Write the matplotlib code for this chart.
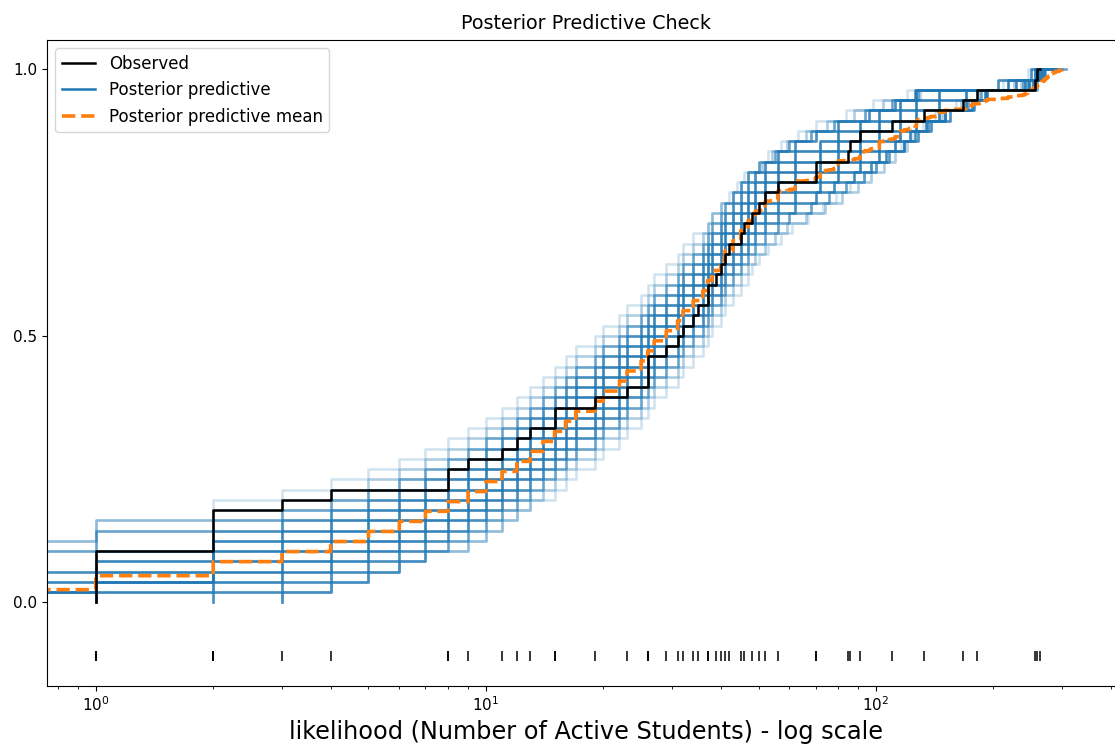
import numpy as np
import matplotlib
matplotlib.use("Agg")
import matplotlib.pyplot as plt
from matplotlib.lines import Line2D

# observed number of active students (53 observations)
obs_values = [1, 1, 1, 1, 1, 2, 2, 2, 2, 3, 4, 8, 8, 9, 11, 12, 13, 15, 15, 19,
              23, 26, 26, 26, 29, 31, 32, 34, 35, 37, 37, 39, 40, 41, 42, 45, 46,
              48, 50, 52, 56, 70, 70, 85, 86, 91, 110, 133, 167, 182, 256, 259, 263]

# posterior predictive draws (sorted), estimated from the band of blue steps
pp_draws = [
    [3, 4, 5, 6, 7, 9, 10, 11, 12, 13, 15, 16, 17, 19, 20, 22, 23, 25, 26, 27,
     29, 31, 32, 34, 36, 37, 38, 40, 41, 43, 45, 47, 48, 50, 53, 57, 61, 67, 73, 79,
     86, 93, 100, 108, 116, 124, 132, 142, 160, 182, 250, 268, 290],
    [3, 4, 5, 6, 7, 9, 10, 11, 12, 13, 14, 15, 16, 17, 19, 20, 22, 23, 25, 26,
     27, 29, 31, 32, 34, 36, 37, 38, 40, 41, 43, 45, 47, 49, 52, 55, 59, 66, 74, 82,
     90, 97, 105, 112, 120, 128, 136, 148, 165, 184, 236, 262, 300],
    [3, 4, 5, 6, 7, 8, 9, 10, 11, 12, 13, 14, 15, 16, 17, 19, 20, 22, 23, 25,
     26, 27, 29, 31, 32, 34, 36, 37, 38, 40, 41, 43, 45, 47, 49, 52, 56, 60, 68, 76,
     84, 93, 100, 108, 118, 128, 136, 150, 172, 186, 258, 272, 307],
    [2, 3, 4, 5, 6, 7, 8, 9, 10, 11, 12, 13, 14, 15, 16, 17, 19, 20, 22, 23,
     25, 26, 27, 29, 31, 32, 34, 36, 37, 38, 40, 41, 43, 45, 47, 49, 52, 56, 62, 70,
     78, 88, 97, 106, 118, 126, 138, 155, 178, 191, 245, 266, 284],
    [1, 2, 3, 4, 5, 6, 7, 8, 9, 10, 11, 12, 13, 14, 15, 16, 17, 19, 20, 22,
     23, 25, 26, 27, 29, 31, 32, 34, 36, 37, 38, 40, 41, 43, 45, 47, 49, 52, 56, 62,
     72, 80, 91, 102, 112, 122, 134, 150, 176, 193, 228, 259, 279],
    [1, 1, 2, 3, 4, 5, 6, 7, 8, 9, 10, 11, 12, 13, 14, 15, 16, 17, 19, 20,
     22, 23, 25, 26, 27, 29, 31, 32, 34, 36, 37, 38, 40, 41, 43, 45, 47, 49, 52, 56,
     62, 72, 80, 91, 102, 115, 127, 145, 170, 190, 252, 270, 295],
    [0, 1, 2, 2, 3, 4, 5, 6, 7, 8, 9, 10, 11, 12, 13, 14, 15, 16, 17, 19,
     20, 22, 23, 25, 26, 27, 29, 31, 32, 34, 36, 37, 38, 40, 41, 43, 45, 47, 49, 52,
     56, 62, 72, 80, 91, 102, 115, 127, 145, 170, 241, 262, 281],
    [0, 1, 1, 2, 2, 3, 4, 5, 6, 7, 8, 9, 10, 11, 12, 13, 14, 15, 16, 17,
     19, 20, 22, 23, 25, 26, 27, 29, 31, 32, 34, 36, 37, 38, 40, 41, 43, 45, 47, 49,
     52, 56, 62, 72, 80, 91, 102, 115, 127, 145, 218, 255, 276],
    [0, 0, 1, 1, 2, 2, 3, 4, 5, 6, 7, 8, 9, 10, 11, 12, 13, 14, 15, 16,
     17, 19, 20, 22, 23, 25, 26, 27, 29, 31, 32, 34, 36, 37, 38, 40, 41, 43, 45, 47,
     49, 52, 56, 62, 72, 80, 91, 102, 115, 127, 247, 265, 288],
    [0, 0, 0, 1, 1, 2, 2, 3, 4, 5, 6, 7, 8, 9, 10, 11, 12, 13, 14, 15,
     16, 17, 19, 20, 22, 23, 25, 26, 27, 29, 31, 32, 34, 36, 37, 38, 40, 41, 43, 45,
     47, 49, 52, 56, 62, 70, 80, 96, 112, 126, 205, 250, 274],
    [0, 0, 0, 0, 0, 1, 1, 2, 3, 4, 5, 6, 7, 8, 9, 10, 11, 12, 13, 14,
     15, 16, 17, 19, 20, 22, 23, 25, 26, 27, 29, 31, 32, 34, 36, 37, 38, 40, 41, 43,
     45, 47, 50, 55, 60, 68, 78, 94, 110, 128, 238, 260, 270],
    [0, 0, 0, 0, 0, 0, 1, 1, 2, 3, 4, 5, 6, 7, 8, 9, 10, 11, 12, 13,
     14, 15, 16, 17, 19, 20, 22, 23, 25, 26, 27, 29, 31, 32, 34, 36, 37, 38, 40, 43,
     45, 47, 51, 54, 59, 66, 75, 88, 104, 130, 226, 256, 283],
    [0, 0, 0, 0, 0, 0, 1, 1, 2, 2, 3, 4, 5, 6, 7, 8, 9, 10, 11, 12,
     13, 14, 15, 16, 17, 19, 20, 22, 23, 25, 26, 27, 29, 31, 32, 34, 37, 38, 40, 42,
     44, 46, 50, 53, 57, 63, 70, 84, 98, 120, 212, 245, 268],
]
# how many posterior samples each sketched draw stands for
pp_weights = [1, 2, 5, 8, 10, 12, 12, 12, 10, 8, 5, 2, 1]


def ecdf(values):
    v = np.sort(np.asarray(values, dtype=float))
    return v, np.linspace(0, 1, len(v))


fig, ax = plt.subplots(figsize=(11.15, 7.49), dpi=100)
# the axes runs a little past the right edge of the picture
fig.subplots_adjust(left=0.0422, right=1.009, bottom=0.0841, top=0.9466)

for draw, w in zip(pp_draws, pp_weights):
    ax.plot(*ecdf(draw), color="C0", alpha=1 - 0.8 ** w, lw=1.9,
            drawstyle="steps-pre")

pooled = np.repeat(np.array(pp_draws), pp_weights, axis=0).ravel()
ax.plot(*ecdf(pooled), color="C1", ls="--", lw=2.6, drawstyle="steps-pre",
        zorder=2.5)
ax.plot(*ecdf(obs_values), color="k", lw=1.8, drawstyle="steps-pre", zorder=3)

# rug of observed values
ax.plot(obs_values, np.full(len(obs_values), -0.1), "|", color="k",
        ms=7.5, mew=1.1)

ax.set_xscale("log")
ax.set_xlim(0.75, 435)
ax.set_ylim(-0.157, 1.055)
ax.set_yticks([0, 0.5, 1.0])
ax.tick_params(labelsize=11)

handles = [Line2D([], [], color="k", lw=1.8),
           Line2D([], [], color="C0", lw=1.8),
           Line2D([], [], color="C1", ls="--", lw=2.6)]
ax.legend(handles, ["Observed", "Posterior predictive",
                    "Posterior predictive mean"], loc="upper left", fontsize=12)

ax.set_title("Posterior Predictive Check", fontsize=13.8, pad=8)
ax.set_xlabel("likelihood (Number of Active Students) - log scale",
              fontsize=17.3)

fig.savefig("out.png", dpi=100)
